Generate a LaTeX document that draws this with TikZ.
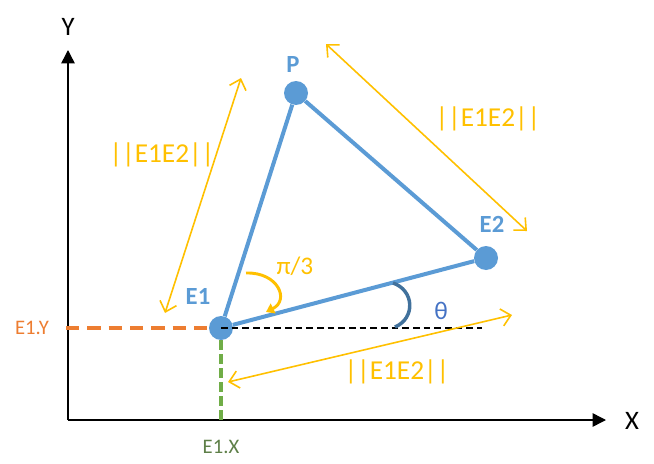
\documentclass[tikz,border=0pt]{standalone}
\usepackage{fontspec}
\setmainfont{Carlito}
\usetikzlibrary{arrows.meta}
\definecolor{cblue}{HTML}{5B9BD5}
\definecolor{cyellow}{HTML}{FFC000}
\definecolor{corange}{HTML}{ED7D31}
\definecolor{cgreen}{HTML}{70AD47}
\definecolor{cgreentext}{HTML}{5E7F48}
\definecolor{cthetaarc}{HTML}{41719C}
\definecolor{cthetatext}{HTML}{4472C4}
\tikzset{
  pt/.style={circle,fill=cblue,inner sep=0pt,minimum size=18pt},
  blueline/.style={draw=cblue,line width=3pt},
  axis/.style={draw=black,line width=1.1pt,-{Triangle[length=10pt,width=10pt]}},
  measure/.style={draw=cyellow,line width=1.2pt,{Straight Barb[length=7pt,width=13pt,line width=1.2pt]}-{Straight Barb[length=7pt,width=13pt,line width=1.2pt]}},
  measlabel/.style={text=cyellow,font=\fontsize{20.5}{22}\selectfont,inner sep=0pt},
  ptlabel/.style={text=cblue,font=\bfseries\fontsize{18.5}{20}\selectfont,inner sep=0pt},
  axlabel/.style={text=black,font=\fontsize{20}{22}\selectfont,inner sep=0pt},
}
\begin{document}
\begin{tikzpicture}[x=0.75pt,y=-0.75pt]
\useasboundingbox (0,0) rectangle (654,464);
% axes
\coordinate (O) at (68,420);
\coordinate (Ytip) at (68,50);
\coordinate (Xtip) at (606,420);
\draw[axis] (O) -- (Ytip);
\draw[axis] (O) -- (Xtip);
\node[axlabel] (Ylab) at (68,27) {Y};
\node[axlabel] (Xlab) at (632,421) {X};
% points
\node[pt] (E1) at (221,328) {};
\node[pt] (P) at (296,93) {};
\node[pt] (E2) at (486,258) {};
\draw[blueline] (E1) -- (P);
\draw[blueline] (P) -- (E2);
\draw[blueline] (E2) -- (E1);
% projections
\coordinate (Yproj) at (66,328);
\coordinate (Xproj) at (221,424);
\coordinate (Hend) at (482,328);
\draw[draw=corange,line width=3pt,dash pattern=on 10pt off 6pt] (Yproj) -- (E1);
\draw[draw=cgreen,line width=3pt,dash pattern=on 7pt off 3.5pt] (E1) -- (Xproj);
\draw[draw=black,line width=1.5pt,dash pattern=on 5pt off 3pt] (E1.center) -- (Hend);
\node[text=corange,font=\fontsize{15.5}{17}\selectfont,inner sep=0pt] (E1Y) at (32,328) {E1.Y};
\node[text=cgreentext,font=\fontsize{15.5}{17}\selectfont,inner sep=0pt] (E1X) at (221,447) {E1.X};
% point labels
\node[ptlabel] (Plab) at (293,65) {P};
\node[ptlabel] (E2lab) at (492,224) {E2};
\node[ptlabel] (E1lab) at (198,296) {E1};
% measures
\coordinate (L1) at (165,313);
\coordinate (L2) at (241,78);
\coordinate (T1) at (326,44);
\coordinate (T2) at (527,231);
\coordinate (B1) at (228,382);
\coordinate (B2) at (512,315);
\draw[measure] (L1) -- (L2);
\draw[measure] (T1) -- (T2);
\draw[measure] (B1) -- (B2);
\node[measlabel] (mL) at (162,155) {||E1E2||};
\node[measlabel] (mT) at (488,119) {||E1E2||};
\node[measlabel] (mB) at (397,372) {||E1E2||};
% angles
\coordinate (a1) at (246,273);
\coordinate (a2) at (266,312);
\draw[draw=cyellow,line width=2.2pt,-{Triangle[length=6pt,width=8pt]}] (a1) .. controls (278,272) and (290,300) .. (a2);
\node[text=cyellow,font=\fontsize{19}{21}\selectfont,inner sep=0pt] (pilab) at (295,266) {π/3};
\coordinate (t1) at (393,283);
\coordinate (t2) at (395,327);
\draw[draw=cthetaarc,line width=2.6pt] (t1) .. controls (414,290) and (416,318) .. (t2);
\node[text=cthetatext,font=\fontsize{19}{21}\selectfont,inner sep=0pt] (thlab) at (441,311) {θ};
\end{tikzpicture}
\end{document}
